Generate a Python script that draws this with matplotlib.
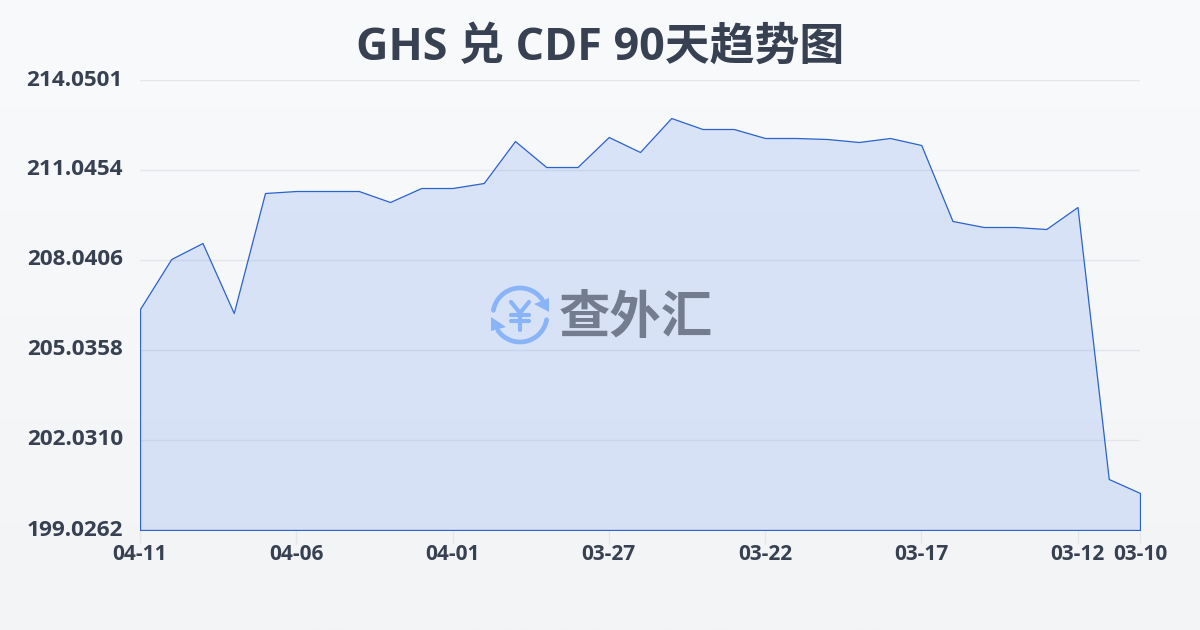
import matplotlib
matplotlib.use("Agg")
import matplotlib.pyplot as plt
from matplotlib.patches import Polygon
import numpy as np

latin_cjk = ['Open Sans', 'Noto Sans CJK SC', 'DejaVu Sans']
plt.rcParams['font.family'] = latin_cjk

title = "GHS 兑 CDF 90天趋势图"
# one value per day, newest first
values = [206.405, 208.074, 208.608, 206.271, 210.277, 210.344, 210.344, 210.344,
          209.977, 210.444, 210.444, 210.611, 212.013, 211.145, 211.145, 212.147,
          211.646, 212.781, 212.414, 212.414, 212.114, 212.114, 212.080, 211.980,
          212.114, 211.880, 209.343, 209.142, 209.142, 209.075, 209.810, 200.729,
          200.262]
x_ticks = [0, 5, 10, 15, 20, 25, 30, 32]
x_labels = ["04-11", "04-06", "04-01", "03-27", "03-22", "03-17", "03-12", "03-10"]
y_ticks = [199.0262, 202.0310, 205.0358, 208.0406, 211.0454, 214.0501]
y_labels = ["199.0262", "202.0310", "205.0358", "208.0406", "211.0454", "214.0501"]

text_color = "#374151"
line_color = "#2b62cc"
logo_color = "#8ab4f8"

W, H = 1200, 630
fig = plt.figure(figsize=(W / 100, H / 100), dpi=100)

# background gradient, whole figure in pixel coordinates
bg = fig.add_axes([0, 0, 1, 1], zorder=0)
bg.imshow(np.linspace(0, 1, 256).reshape(-1, 1), aspect="auto", extent=(0, W, H, 0),
          cmap=matplotlib.colors.LinearSegmentedColormap.from_list("bg", ["#f9fafc", "#f3f4f6"]))
bg.set_xlim(0, W)
bg.set_ylim(H, 0)
bg.axis("off")

ax = fig.add_axes([140 / W, 1 - 530 / H, 1000 / W, 450 / H], zorder=1)
ax.patch.set_alpha(0)
xs = np.arange(len(values))
ax.fill_between(xs, values, y_ticks[0], facecolor=(0.27, 0.50, 0.93, 0.17),
                edgecolor=line_color, linewidth=0.9, zorder=2)
ax.set_xlim(0, 32)
ax.set_ylim(y_ticks[0], y_ticks[-1])
ax.set_xticks(x_ticks, x_labels)
ax.set_yticks(y_ticks, [])
ax.grid(axis="y", color="#e3e6eb", linewidth=1, zorder=1)
ax.set_axisbelow(True)
for s in ax.spines.values():
    s.set_visible(False)
ax.tick_params(axis="x", length=10, width=1, color="#e3e6eb", pad=0, labelsize=15, labelcolor=text_color)
ax.tick_params(axis="y", length=0)
for t in ax.get_xticklabels():
    t.set_fontweight("bold")
# y labels sit a little above their grid lines
for v, s in zip(y_ticks, y_labels):
    ax.annotate(s, (0, v), xycoords=("axes fraction", "data"), xytext=(-12.3, 0),
                textcoords="offset points", ha="right", va="center", fontsize=16.2,
                fontweight="bold", color=text_color, annotation_clip=False)

fig.text(600 / W, 1 - 48 / H, title, ha="center", va="center", fontsize=32.3,
         fontweight="bold", color=text_color)

# watermark logo
fg = fig.add_axes([0, 0, 1, 1], zorder=3)
fg.set_xlim(0, W)
fg.set_ylim(H, 0)
fg.axis("off")
cx, cy, r = 520, 315, 27
for a0, a1 in [(215, 350), (35, 170)]:
    th = np.radians(np.linspace(a0, a1, 60))
    fg.plot(cx + r * np.cos(th), cy - r * np.sin(th), color=logo_color, lw=3.4,
            solid_capstyle="round")
fg.add_patch(Polygon([(549, 298), (549, 312), (534, 304)], color=logo_color, lw=0))
fg.add_patch(Polygon([(491, 317), (491, 331), (506, 327)], color=logo_color, lw=0))
# yen sign from strokes
for xx, yy in [([511, 520, 529], [302, 313, 302]), ([520, 520], [313, 330]),
               ([511, 529], [315, 315]), ([511, 529], [321, 321])]:
    fg.plot(xx, yy, color=logo_color, lw=3, solid_capstyle="round", solid_joinstyle="round")
fg.text(636, 318, "查外汇", ha="center", va="center", fontsize=37, fontweight="bold",
        color="#737d8f", family=['Noto Sans CJK SC'])

fig.savefig("out.png", dpi=100)
